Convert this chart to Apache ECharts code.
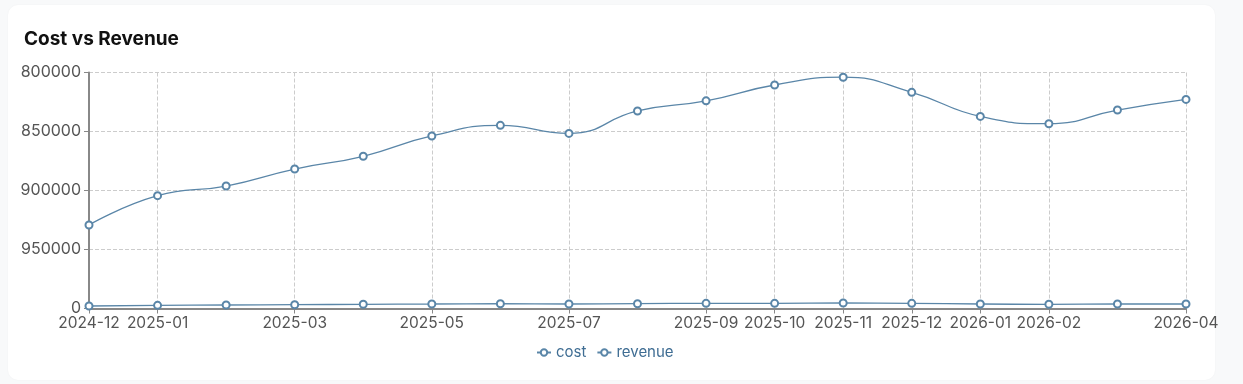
<!DOCTYPE html>
<html>
<head>
<meta charset="utf-8">
<script src="https://cdn.jsdelivr.net/npm/echarts@6/dist/echarts.min.js"></script>
<style>
  html, body { margin: 0; padding: 0; background: #f8f9fa; }
  #card { position: absolute; left: 8px; top: 5px; width: 1207px; height: 375px; background: #ffffff; border-radius: 10px; box-shadow: 0 0 2px rgba(0,0,0,0.04); }
  #chart { position: absolute; left: 0; top: 0; width: 1243px; height: 384px; }
</style>
</head>
<body>
<div id="card"></div>
<div id="chart"></div>
<script>
const categories = ['2024-12','2025-01','2025-02','2025-03','2025-04','2025-05','2025-06','2025-07','2025-08','2025-09','2025-10','2025-11','2025-12','2026-01','2026-02','2026-03','2026-04'];
const costValues = [354000, 478000, 519000, 591000, 645000, 731000, 776000, 742000, 837000, 880000, 947000, 980000, 916000, 814000, 783000, 841000, 886000];
const revenueValues = [10600, 13500, 14800, 16100, 17800, 19000, 20300, 19000, 20300, 22000, 22000, 23300, 22000, 19000, 17800, 19000, 19000];
const yTickLabels = ['0', '950000', '900000', '850000', '800000'];
const shownXLabels = [0, 1, 3, 5, 7, 9, 10, 11, 12, 13, 14, 16];

const lineColor = '#5a86a8';
const chart = echarts.init(document.getElementById('chart'));
const showIdx = (i) => shownXLabels.indexOf(i) >= 0;
chart.setOption({
  backgroundColor: 'transparent',
  animation: false,
  title: {
    text: 'Cost vs Revenue',
    left: 19, top: 25,
    textStyle: { fontFamily: 'Inter', fontSize: 19, fontWeight: 'bold', color: '#111' }
  },
  legend: {
    bottom: 19, left: 531,
    itemWidth: 14, itemHeight: 8, itemGap: 10,
    textStyle: { fontFamily: 'Inter', fontSize: 15, color: '#3f6d93' },
    data: ['cost', 'revenue']
  },
  grid: { left: 89, right: 57, top: 72.5, bottom: 75.5 },
  xAxis: {
    type: 'category',
    data: categories,
    boundaryGap: false,
    axisLine: { lineStyle: { color: '#888', width: 2 } },
    axisTick: { show: true, interval: (i) => showIdx(i), length: 5, lineStyle: { color: '#888' } },
    axisLabel: { interval: (i) => showIdx(i), fontFamily: 'Inter', fontSize: 15.5, color: '#555', margin: 7 },
    splitLine: { show: true, interval: (i) => showIdx(i) && i > 0, lineStyle: { type: 'dashed', color: '#ccc' } }
  },
  yAxis: {
    type: 'value',
    min: 0, max: 1000000, interval: 250000,
    axisLine: { show: true, lineStyle: { color: '#888', width: 2 } },
    axisTick: { show: true, length: 5, lineStyle: { color: '#888' } },
    axisLabel: {
      fontFamily: 'Inter', fontSize: 16, color: '#555', margin: 8,
      formatter: (v) => yTickLabels[Math.round(v / 250000)]
    },
    splitLine: { show: true, lineStyle: { type: 'dashed', color: '#ccc' } }
  },
  series: [
    { name: 'cost', type: 'line', data: costValues, smooth: true, symbol: 'emptyCircle', symbolSize: 7,
      itemStyle: { color: lineColor, borderWidth: 1 }, lineStyle: { color: lineColor, width: 1.3 } },
    { name: 'revenue', type: 'line', data: revenueValues, smooth: true, symbol: 'emptyCircle', symbolSize: 7,
      itemStyle: { color: lineColor, borderWidth: 1 }, lineStyle: { color: lineColor, width: 1.3 } }
  ]
});
</script>
</body>
</html>
